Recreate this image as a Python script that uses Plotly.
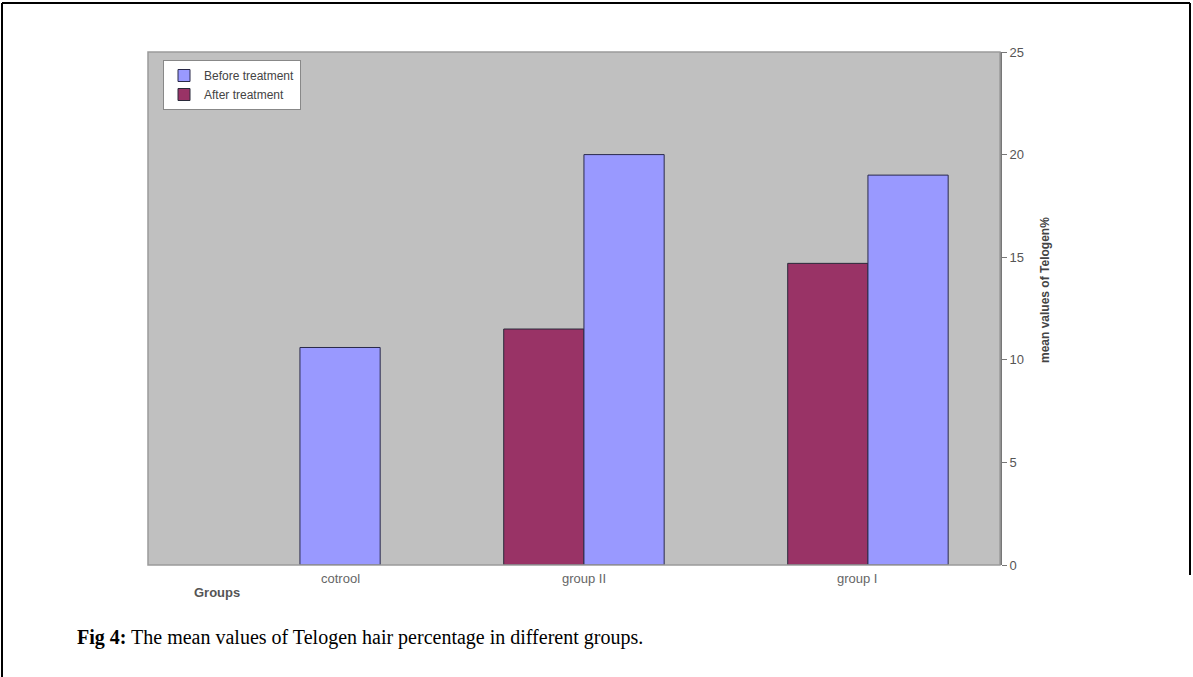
import plotly.graph_objects as go

# Telogen hair percentage, mean values per group
groups = ["cotrool", "group II", "group I"]
before_treatment = [10.6, 20.0, 19.0]
after_treatment = [None, 11.5, 14.7]
y_ticks = [0, 5, 10, 15, 20, 25]

W, H = 1193, 677
L, R, T, B = 148, 1000, 52, 565  # plot area in pixels


def px_x(p):
    return (p - L) / (R - L)


def px_y(p):
    return (B - p) / (B - T)


fig = go.Figure()
fig.add_trace(go.Bar(
    name="After treatment", x=groups, y=after_treatment,
    marker=dict(color="#993366", line=dict(color="#2a2a3a", width=1)),
))
fig.add_trace(go.Bar(
    name="Before treatment", x=groups, y=before_treatment,
    marker=dict(color="#9999FF", line=dict(color="#2a2a4a", width=1)),
))

shapes = [
    # plot area frame
    dict(type="rect", xref="paper", yref="paper", x0=0, x1=1, y0=0, y1=1,
         line=dict(color="#9a9a9a", width=1.5), layer="above"),
    # outer page frame
    dict(type="line", xref="paper", yref="paper",
         x0=px_x(2), x1=px_x(2), y0=px_y(3), y1=px_y(H + 5),
         line=dict(color="black", width=2)),
    dict(type="line", xref="paper", yref="paper",
         x0=px_x(2), x1=px_x(1190), y0=px_y(3), y1=px_y(3),
         line=dict(color="black", width=2)),
    dict(type="line", xref="paper", yref="paper",
         x0=px_x(1190), x1=px_x(1190), y0=px_y(3), y1=px_y(575),
         line=dict(color="black", width=2)),
]

label_shift = [41, 0, -11]
annotations = [
    dict(text=g, x=g, xref="x", y=px_y(579), yref="paper", yanchor="middle",
         xshift=s, showarrow=False,
         font=dict(family="Liberation Sans, Arial", size=13, color="#666"))
    for g, s in zip(groups, label_shift)
]
annotations += [
    dict(text="<b>Groups</b>", x=px_x(192), xref="paper", xanchor="left",
         y=px_y(592), yref="paper", yanchor="middle", showarrow=False,
         font=dict(family="Liberation Sans, Arial", size=13, color="#555")),
    dict(text="<b>mean values of Telogen%</b>", textangle=-90,
         x=px_x(1045), xref="paper", xanchor="center",
         y=px_y(290), yref="paper", yanchor="middle", showarrow=False,
         font=dict(family="Liberation Sans, Arial", size=12, color="#444")),
    dict(text="<b>Fig 4:</b> The mean values of Telogen hair percentage in different groups.",
         x=px_x(75), xref="paper", xanchor="left",
         y=px_y(637), yref="paper", yanchor="middle", showarrow=False,
         font=dict(family="Liberation Serif, Times New Roman", size=20, color="black")),
]

fig.update_layout(
    width=W, height=H,
    margin=dict(l=L, r=W - R, t=T, b=H - B),
    paper_bgcolor="white",
    plot_bgcolor="#C0C0C0",
    barmode="group",
    bargap=0.435,
    bargroupgap=0,
    showlegend=True,
    legend=dict(
        x=px_x(163), y=px_y(60), xanchor="left", yanchor="top",
        bgcolor="white", bordercolor="#888", borderwidth=1,
        traceorder="reversed",
        font=dict(family="Liberation Sans, Arial", size=12, color="#444"),
        itemwidth=30, tracegroupgap=0,
    ),
    xaxis=dict(showticklabels=False, ticks="", showgrid=False, zeroline=False,
               showline=False, range=[-0.535, 2.465]),
    yaxis=dict(
        side="right", range=[0, 25], tickvals=y_ticks, ticks="outside",
        ticklen=5, tickcolor="#777", showgrid=False, zeroline=False,
        showline=True, linecolor="#777", linewidth=2,
        tickfont=dict(family="Liberation Sans, Arial", size=13, color="#555"),
    ),
    shapes=shapes,
    annotations=annotations,
)

fig.write_html("out.html")
